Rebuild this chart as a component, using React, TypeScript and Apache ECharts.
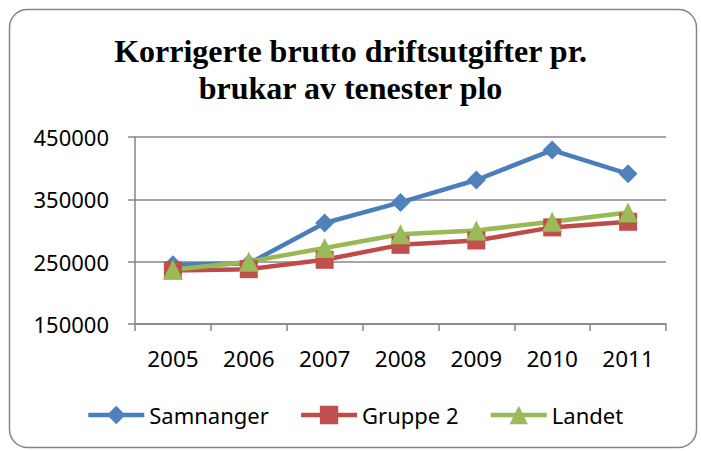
import React, { useEffect, useRef } from "react";
import * as echarts from "echarts";

const titleLines = ["Korrigerte brutto driftsutgifter pr.", "brukar av tenester plo"];
const years = ["2005", "2006", "2007", "2008", "2009", "2010", "2011"];
const samnanger = [245000, 247000, 312000, 345000, 381000, 429000, 391000];
const gruppe2 = [236000, 238000, 253000, 277000, 284000, 305000, 314000];
const landet = [237000, 250000, 272000, 294000, 300000, 314000, 329000];
const seriesNames = ["Samnanger", "Gruppe 2", "Landet"];
const yMin = 150000;
const yMax = 450000;
const yStep = 100000;

const axisGray = "#868686";
const sansFont = "'Noto Sans', 'Open Sans', sans-serif";

export default function App() {
  const ref = useRef<HTMLDivElement>(null);
  useEffect(() => {
    if (!ref.current) return;
    const chart = echarts.init(ref.current, undefined, { renderer: "svg" });
    const mk = (name: string, data: number[], color: string, lineColor: string, symbol: string, size: number) => ({
      type: "line",
      name,
      data,
      symbol,
      symbolSize: size,
      showAllSymbol: true,
      lineStyle: { color: lineColor, width: 4.5 },
      itemStyle: { color, borderColor: color, borderWidth: 0 },
      emphasis: { disabled: true },
    });
    chart.setOption({
      animation: false,
      backgroundColor: "#ffffff",
      title: {
        text: titleLines.join("\n"),
        left: "center",
        top: 27,
        textStyle: {
          fontFamily: "'Liberation Serif', 'Times New Roman', serif",
          fontWeight: "bold",
          fontSize: 32,
          lineHeight: 37,
          color: "#000000",
        },
      },
      graphic: [
        {
          type: "rect",
          shape: { x: 9.5, y: 9.5, width: 687, height: 438, r: 18 },
          style: { fill: "none", stroke: axisGray, lineWidth: 1.5 },
          silent: true,
          z: -1,
        },
      ],
      legend: {
        left: 81,
        top: 399,
        itemWidth: 56,
        itemHeight: 23,
        itemGap: 30,
        lineStyle: { width: 4.5 },
        textStyle: { fontFamily: sansFont, fontSize: 22, color: "#000000" },
        data: seriesNames,
      },
      grid: { left: 135, right: 35, top: 137, bottom: 127 },
      xAxis: {
        type: "category",
        data: years,
        boundaryGap: true,
        axisLine: { lineStyle: { color: axisGray, width: 1.5 } },
        axisTick: { show: true, length: 7, lineStyle: { color: axisGray, width: 1.5 } },
        axisLabel: { fontFamily: sansFont, fontSize: 22.5, color: "#000000", margin: 23 },
      },
      yAxis: {
        type: "value",
        min: yMin,
        max: yMax,
        interval: yStep,
        axisLine: { show: true, lineStyle: { color: axisGray, width: 1.5 } },
        axisTick: { show: true, length: 7, lineStyle: { color: axisGray, width: 1.5 } },
        splitLine: { lineStyle: { color: axisGray, width: 1.5 } },
        axisLabel: {
          fontFamily: sansFont,
          fontSize: 22,
          color: "#000000",
          margin: 26,
          formatter: (v: number) => String(v),
        },
      },
      series: [
        mk(seriesNames[0], samnanger, "#4F81BD", "#4A7EBB", "diamond", 19),
        mk(seriesNames[1], gruppe2, "#C0504D", "#BE4B48", "rect", 18),
        mk(seriesNames[2], landet, "#9BBB59", "#98B954", "triangle", 20),
      ],
    });
    return () => chart.dispose();
  }, []);
  return (
    <div
      ref={ref}
      style={{ position: "absolute", left: 0, top: 0, width: 701, height: 451, background: "#fff" }}
    />
  );
}
